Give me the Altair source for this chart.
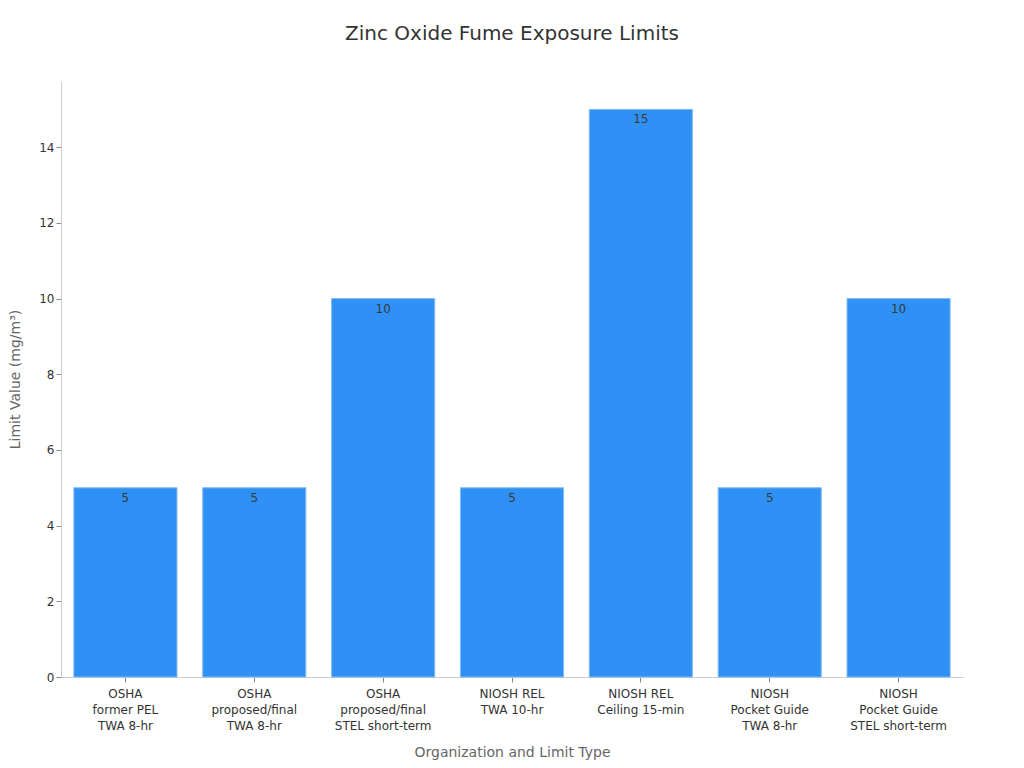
import altair as alt
import pandas as pd

categories = [
    "OSHA\nformer PEL\nTWA 8-hr",
    "OSHA\nproposed/final\nTWA 8-hr",
    "OSHA\nproposed/final\nSTEL short-term",
    "NIOSH REL\nTWA 10-hr",
    "NIOSH REL\nCeiling 15-min",
    "NIOSH\nPocket Guide\nTWA 8-hr",
    "NIOSH\nPocket Guide\nSTEL short-term",
]
values = [5, 5, 10, 5, 15, 5, 10]

df = pd.DataFrame({"cat": categories, "val": values})

FONT = "DejaVu Sans"

x = alt.X(
    "cat:N",
    sort=categories,
    title="Organization and Limit Type",
    scale=alt.Scale(paddingInner=0.2, paddingOuter=0.1),
    axis=alt.Axis(
        labelAngle=0,
        labelExpr="split(datum.label, '\\n')",
        labelFontSize=12,
        labelColor="#333333",
        labelLineHeight=16,
        labelPadding=6,
        titleFontSize=14,
        titleColor="#666666",
        titleFontWeight="normal",
        titlePadding=14,
        tickColor="#888888",
        domainColor="#cccccc",
        labelFont=FONT,
        titleFont=FONT,
    ),
)
y = alt.Y(
    "val:Q",
    title="Limit Value (mg/m³)",
    scale=alt.Scale(domain=[0, 15.75], nice=False),
    axis=alt.Axis(
        values=[0, 2, 4, 6, 8, 10, 12, 14],
        grid=False,
        labelFontSize=12,
        labelColor="#333333",
        titleFontSize=14,
        titleColor="#666666",
        titleFontWeight="normal",
        titlePadding=16,
        tickColor="#888888",
        domainColor="#cccccc",
        labelFont=FONT,
        titleFont=FONT,
    ),
)

bars = alt.Chart(df).mark_bar(
    color="#2f91f5", stroke="#7fbaf5", strokeWidth=1
).encode(x=x, y=y)

labels = alt.Chart(df).mark_text(
    baseline="top", dy=5, fontSize=12, color="#3a3a3a", font=FONT
).encode(x=alt.X("cat:N", sort=categories), y="val:Q", text="val:Q")

chart = (
    (bars + labels)
    .properties(
        width=902,
        height=596,
        title=alt.TitleParams(
            "Zinc Oxide Fume Exposure Limits",
            fontSize=20,
            font=FONT,
            color="#333333",
            fontWeight="normal",
            offset=37,
        ),
        autosize=alt.AutoSizeParams(type="none"),
        padding={"left": 53, "top": 73, "right": 53, "bottom": 83},
    )
    .configure_view(stroke=None)
)

chart.save("out.html", embed_options={"renderer": "svg", "actions": False})
